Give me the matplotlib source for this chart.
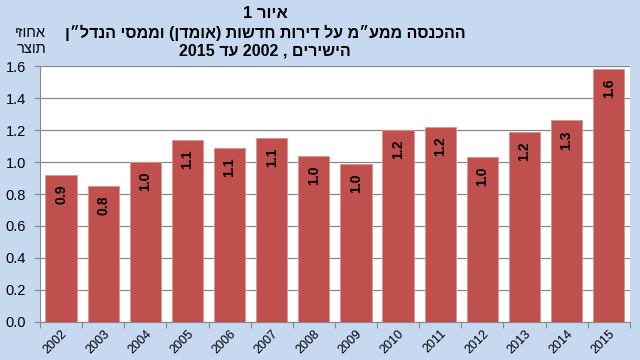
import re
import matplotlib
matplotlib.use('Agg')
import matplotlib.pyplot as plt

years = ['2002', '2003', '2004', '2005', '2006', '2007', '2008',
         '2009', '2010', '2011', '2012', '2013', '2014', '2015']
values = [0.92, 0.85, 1.00, 1.14, 1.09, 1.15, 1.04,
          0.99, 1.20, 1.22, 1.03, 1.19, 1.26, 1.58]
labels = ['0.9', '0.8', '1.0', '1.1', '1.1', '1.1', '1.0',
          '1.0', '1.2', '1.2', '1.0', '1.2', '1.3', '1.6']

title_lines = ['איור 1',
               'ההכנסה ממע״מ על דירות חדשות (אומדן) וממסי הנדל״ן',
               'הישירים , 2002 עד 2015']
ylabel_lines = ['אחוזי', 'תוצר']


def vis(s):
    # matplotlib has no bidi: reverse Hebrew, keep digit runs, mirror brackets
    r = s[::-1]
    r = re.sub(r'[0-9.]+', lambda m: m.group(0)[::-1], r)
    return r.translate(str.maketrans('()', ')('))


plt.rcParams['font.family'] = ['Liberation Sans', 'DejaVu Sans']

bg = '#c6d9f1'
fig = plt.figure(figsize=(6.4, 3.6), dpi=100, facecolor=bg)
ax = fig.add_axes([0.0625, 0.1056, 0.9215, 0.711])
ax.set_facecolor('white')

x = range(len(years))
ax.bar(x, values, width=0.74, color='#c0504d', edgecolor='#d99694', linewidth=0.6, zorder=3)

for i, (v, lab) in enumerate(zip(values, labels)):
    ax.text(i, v - 0.06, lab, rotation=90, ha='center', va='top',
            fontsize=10, fontweight='bold', color='black', zorder=4)

ax.set_xlim(-0.5, len(years) - 0.5)
ax.set_ylim(0, 1.6)
ax.set_yticks([0.0, 0.2, 0.4, 0.6, 0.8, 1.0, 1.2, 1.4, 1.6])
ax.set_yticklabels(['%.1f' % t for t in ax.get_yticks()], fontsize=10.5)
ax.yaxis.grid(True, color='#888888', linewidth=0.9, zorder=0)

ax.set_xticks([i + 0.5 for i in range(-1, len(years))])
ax.set_xticklabels([])
ax.set_xticks(list(x), minor=True)
ax.set_xticklabels(years, minor=True, rotation=45, ha='right', rotation_mode='anchor', fontsize=9)
ax.tick_params(axis='x', which='minor', length=0, pad=4)
ax.tick_params(axis='x', which='major', length=4, color='#888888')
ax.tick_params(axis='y', length=4, color='#888888', pad=6)

for side in ['top', 'right']:
    ax.spines[side].set_visible(False)
for side in ['left', 'bottom']:
    ax.spines[side].set_color('#888888')

fig.text(265 / 640, 1 - 13 / 360, vis(title_lines[0]), ha='center', va='center',
         fontsize=12, fontweight='bold')
fig.text(265 / 640, 1 - 33 / 360, vis(title_lines[1]), ha='center', va='center',
         fontsize=11.5, fontweight='bold')
fig.text(265 / 640, 1 - 51 / 360, vis(title_lines[2]), ha='center', va='center',
         fontsize=11.5, fontweight='bold')
fig.text(30 / 640, 1 - 33 / 360, vis(ylabel_lines[0]), ha='center', va='center', fontsize=10.5)
fig.text(32 / 640, 1 - 49 / 360, vis(ylabel_lines[1]), ha='center', va='center', fontsize=10.5)

fig.savefig('out.png', dpi=100, facecolor=bg)
